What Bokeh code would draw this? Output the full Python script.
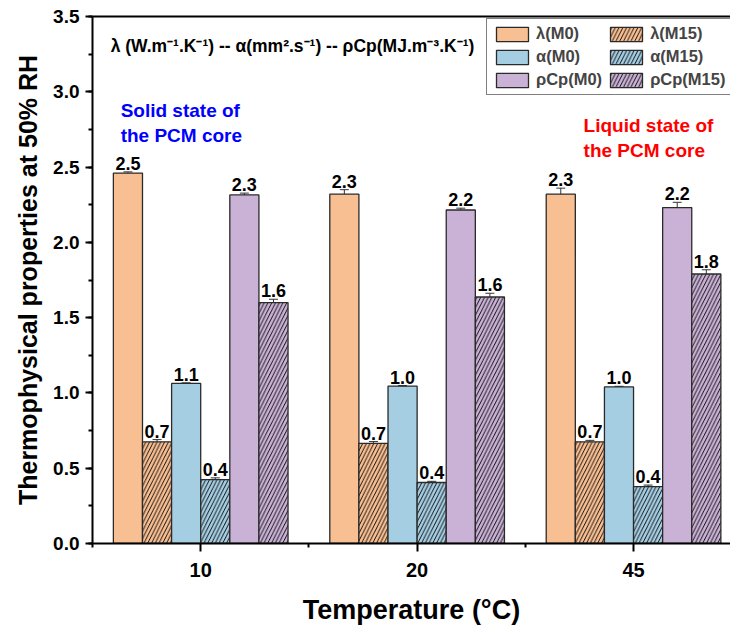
from bokeh.plotting import figure
from bokeh.models import (ColumnDataSource, Whisker, TeeHead, Label, Legend, LegendItem,
                          FixedTicker, SingleIntervalTicker, LinearAxis, Range1d, PrintfTickFormatter)
from bokeh.core.properties import value
from bokeh.embed import file_html
from bokeh.resources import INLINE

temps = ["10", "20", "45"]
series_names = ["λ(M0)", "λ(M15)", "α(M0)", "α(M15)", "ρCp(M0)", "ρCp(M15)"]

lam_M0 = [2.46, 2.32, 2.32]
lam_M0_err = [0.008, 0.03, 0.04]
lam_M15 = [0.675, 0.665, 0.675]
lam_M15_err = [0.015, 0.012, 0.01]
alpha_M0 = [1.063, 1.045, 1.04]
alpha_M0_err = [0.004, 0.004, 0.004]
alpha_M15 = [0.424, 0.405, 0.378]
alpha_M15_err = [0.012, 0.008, 0.01]
rcp_M0 = [2.315, 2.215, 2.231]
rcp_M0_err = [0.012, 0.012, 0.035]
rcp_M15 = [1.60, 1.637, 1.79]
rcp_M15_err = [0.022, 0.025, 0.028]

lam_M0_lbl = ["2.5", "2.3", "2.3"]
lam_M15_lbl = ["0.7", "0.7", "0.7"]
alpha_M0_lbl = ["1.1", "1.0", "1.0"]
alpha_M15_lbl = ["0.4", "0.4", "0.4"]
rcp_M0_lbl = ["2.3", "2.2", "2.2"]
rcp_M15_lbl = ["1.6", "1.6", "1.8"]

y_ticks_interval = 0.5

values = [lam_M0, lam_M15, alpha_M0, alpha_M15, rcp_M0, rcp_M15]
errors = [lam_M0_err, lam_M15_err, alpha_M0_err, alpha_M15_err, rcp_M0_err, rcp_M15_err]
labels = [lam_M0_lbl, lam_M15_lbl, alpha_M0_lbl, alpha_M15_lbl, rcp_M0_lbl, rcp_M15_lbl]

colors = ["#F8BF93", "#F8BF93", "#A6CEE3", "#A6CEE3", "#CAB2D6", "#CAB2D6"]
hatched = [False, True, False, True, False, True]

FONT = "Liberation Sans"

p = figure(width=730, height=628, output_backend="svg", toolbar_location=None,
           x_range=Range1d(0.5, 3.448), y_range=Range1d(0, 3.5),
           min_border_left=92, min_border_right=0, min_border_top=16, min_border_bottom=85)
p.xgrid.visible = False
p.ygrid.visible = False
p.outline_line_color = None
p.background_fill_color = "white"

bw = 0.1345
renderers = []
for i in range(6):
    off = (i - 2.5) * bw
    xs = [k + 1 + off for k in range(len(temps))]
    up = [v + e for v, e in zip(values[i], errors[i])]
    lo = [v - e for v, e in zip(values[i], errors[i])]
    src = ColumnDataSource(dict(x=xs, top=values[i], upper=up, lower=lo, lbl=labels[i]))
    kw = {}
    if hatched[i]:
        kw = dict(hatch_pattern="/", hatch_color="black", hatch_scale=7.5, hatch_weight=0.9)
    r = p.vbar(x="x", top="top", width=bw, bottom=0, source=src, fill_color=colors[i],
               line_color="#2a2a2a", line_width=1.3, **kw)
    renderers.append(r)
    w = Whisker(source=src, base="x", upper="upper", lower="lower", line_color="#333333",
                line_width=1,
                upper_head=TeeHead(size=9, line_color="#333333", line_width=1),
                lower_head=TeeHead(size=9, line_color="#333333", line_width=1))
    p.add_layout(w)
    p.text(x="x", y="upper", text="lbl", source=src, text_align="center", text_baseline="bottom",
           y_offset=-2, text_font=value(FONT), text_font_style="bold", text_font_size="18px",
           text_color="black")

# legend laid out column by column: M0 series in the first column, M15 in the second
order = [0, 2, 4, 1, 3, 5]
items = [LegendItem(label=series_names[i], renderers=[renderers[i]]) for i in order]

# Axes styling
p.xaxis.ticker = FixedTicker(ticks=[1, 2, 3], minor_ticks=[0.5, 1.5, 2.5, 3.5])
p.xaxis.major_label_overrides = {1: temps[0], 2: temps[1], 3: temps[2]}
p.yaxis.ticker = SingleIntervalTicker(interval=y_ticks_interval, num_minor_ticks=2)
p.yaxis.formatter = PrintfTickFormatter(format="%.1f")
for ax in [p.xaxis[0], p.yaxis[0]]:
    ax.axis_line_width = 2
    ax.axis_line_color = "black"
    ax.major_tick_line_width = 2
    ax.minor_tick_line_width = 2
    ax.major_tick_line_color = "black"
    ax.minor_tick_line_color = "black"
    ax.major_tick_in = 0
    ax.minor_tick_in = 0
    ax.major_label_text_font = FONT
    ax.major_label_text_font_style = "bold"
    ax.major_label_text_color = "black"
    ax.axis_label_text_font = FONT
    ax.axis_label_text_font_style = "bold"
    ax.axis_label_text_color = "black"

p.xaxis.major_tick_out = 8
p.xaxis.minor_tick_out = 4
p.xaxis.major_label_text_font_size = "20px"
p.xaxis.major_label_standoff = 11
p.xaxis.axis_label = "Temperature (°C)"
p.xaxis.axis_label_text_font_size = "27px"
p.xaxis.axis_label_standoff = 15

p.yaxis.major_tick_out = 7
p.yaxis.minor_tick_out = 4
p.yaxis.major_label_text_font_size = "19px"
p.yaxis.major_label_standoff = 6
p.yaxis.axis_label = "Thermophysical properties at 50% RH"
p.yaxis.axis_label_text_font_size = "25px"
p.yaxis.axis_label_standoff = 8

top_axis = LinearAxis(ticker=FixedTicker(ticks=[]), axis_line_width=2, axis_line_color="black",
                      major_tick_out=0, major_tick_in=0, minor_tick_out=0, minor_tick_in=0,
                      major_label_standoff=0)
p.add_layout(top_axis, "above")

# Annotations
p.add_layout(Label(x=0.584, y=3.307, text="λ (W.m⁻¹.K⁻¹)  -- α(mm².s⁻¹) -- ρCp(MJ.m⁻³.K⁻¹)",
                   text_baseline="middle", text_align="left", text_font=FONT,
                   text_font_style="bold", text_font_size="17.5px", text_color="black"))
p.add_layout(Label(x=0.63, y=2.79, text="Solid state of\nthe PCM core", text_baseline="middle",
                   text_align="left", text_font=FONT, text_font_style="bold",
                   text_font_size="19px", text_color="#0000FF"))
p.add_layout(Label(x=2.769, y=2.693, text="Liquid state of\nthe PCM core", text_baseline="middle",
                   text_align="left", text_font=FONT, text_font_style="bold",
                   text_font_size="19px", text_color="#FF0000"))

legend = Legend(items=items, ncols=2, location=(394, 448),
                glyph_width=40, glyph_height=18, label_text_font=FONT,
                label_text_font_style="bold", label_text_font_size="16.5px",
                label_standoff=4, spacing=4, padding=5, margin=0,
                border_line_color="black", border_line_width=1.5,
                background_fill_color="white", background_fill_alpha=1.0)
p.add_layout(legend, "center")

open("out.html", "w").write(file_html(p, INLINE))
